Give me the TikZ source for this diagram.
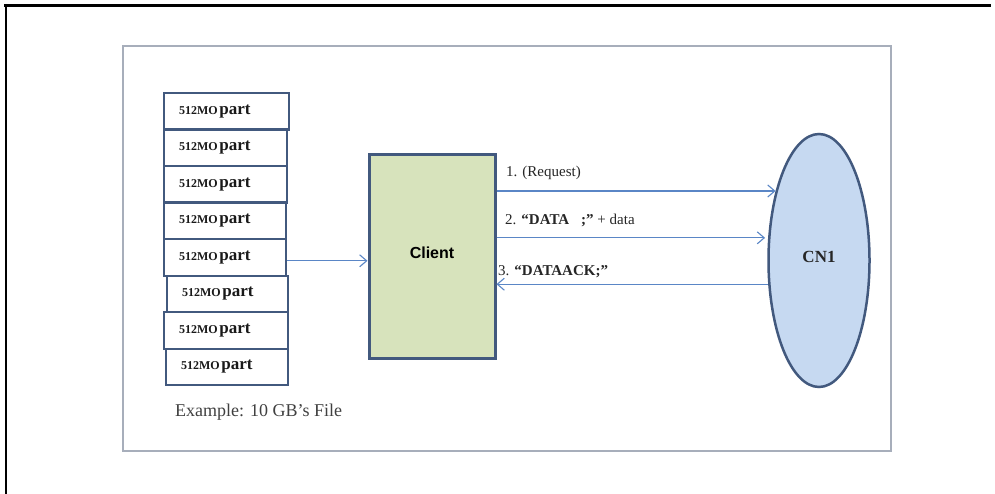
\documentclass[tikz,border=0pt]{standalone}
\usepackage{fontspec}
\setmainfont{Liberation Serif}
\setsansfont{Liberation Sans}
\usetikzlibrary{shapes.geometric,arrows.meta}

\definecolor{edgeblue}{HTML}{42597E}
\definecolor{arrowblue}{HTML}{5A86C6}
\definecolor{clientfill}{HTML}{D7E3BC}
\definecolor{cnfill}{HTML}{C6D9F1}
\definecolor{framegray}{HTML}{A7AEBB}

% label of one file part
\newcommand\partlabel{{\fontsize{12}{12}\selectfont 512MO}\,{\fontsize{17}{17}\selectfont part}}

\begin{document}
\begin{tikzpicture}[x=1pt,y=-1pt,
  partbox/.style={draw=edgeblue,line width=2pt,minimum height=36.6pt,
    inner xsep=15pt,inner ysep=0pt,anchor=north west,font=\bfseries,text=black!90},
  flow/.style={draw=arrowblue,line width=1.1pt,-{Straight Barb[length=7pt,width=12pt]}},
  msg/.style={anchor=west,font=\fontsize{15}{15}\selectfont,text=black!85,inner sep=0pt}]
\useasboundingbox (0,0) rectangle (995,494);
\fill[white] (0,0) rectangle (995,494);

% outer frame: top and left edges
\draw[line width=3pt] (4,5.5) -- (991,5.5);
\draw[line width=2.5pt] (6,4) -- (6,494);

% inner frame
\draw[framegray,line width=1.5pt] (123,46) rectangle (891,451);

% stack of file parts
\foreach \i/\x/\y/\w in {1/163/92/125,2/163/128.5/123,3/163/165/123,4/163/201.5/122,
                          5/163/238/122,6/166/274.5/121,7/163/311/124,8/165/347.5/122}
  \node[partbox,minimum width=\w pt] (p\i) at (\x,\y)
    {\makebox[\dimexpr\w pt-30pt\relax][l]{\partlabel}};

% client
\node[draw=edgeblue,line width=3pt,fill=clientfill,minimum width=126pt,
      minimum height=203pt,inner sep=0pt] (client) at (432,256.5)
  {\raisebox{8pt}{\sffamily\bfseries\fontsize{16}{16}\selectfont Client}};

% storage node
\node[ellipse,draw=edgeblue,line width=2.5pt,fill=cnfill,minimum width=101pt,
      minimum height=253pt,inner sep=0pt,text=black!85] (cn) at (819,260.5)
  {\raisebox{7pt}{\bfseries\fontsize{17}{17}\selectfont CN1}};

% connectors
\draw[flow] ([yshift=-3.5pt]p5.east) -- ([yshift=-3.5pt]p5.east -| client.west);
\draw[flow] (client.east |- cn.122.5) -- (cn.122.5);
\draw[flow,shorten >=3pt] (client.east |- cn.156.2) -- (cn.156.2);
\draw[flow] (cn.205.75) -- (client.east |- cn.205.75);

% message labels
\node[msg] (m1) at (506,173) {1. (Request)};
\node[msg] (m2) at (505,220) {2. \textbf{“DATA\hspace{12pt};”} + data};
\node[msg] (m3) at (498,272) {3. \textbf{“DATAACK;”}};

% caption
\node[anchor=west,inner sep=0pt,font=\fontsize{18}{18}\selectfont,text=black!75]
  (ex) at (175,412) {Example: 10 GB’s File};
\end{tikzpicture}
\end{document}
